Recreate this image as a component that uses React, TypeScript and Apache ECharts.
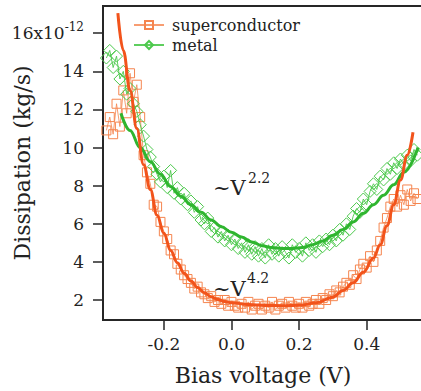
import React, { useEffect, useRef } from "react";
import * as echarts from "echarts";

const voltage = [
  -0.37, -0.36, -0.35, -0.34, -0.33, -0.32, -0.31, -0.30, -0.29, -0.28,
  -0.27, -0.26, -0.25, -0.24, -0.23, -0.22, -0.21, -0.20, -0.19, -0.18,
  -0.17, -0.16, -0.15, -0.14, -0.13, -0.12, -0.11, -0.10, -0.09, -0.08,
  -0.07, -0.06, -0.05, -0.04, -0.03, -0.02, -0.01, 0.0, 0.01, 0.02,
  0.03, 0.04, 0.05, 0.06, 0.07, 0.08, 0.09, 0.10, 0.11, 0.12,
  0.13, 0.14, 0.15, 0.16, 0.17, 0.18, 0.19, 0.20, 0.21, 0.22,
  0.23, 0.24, 0.25, 0.26, 0.27, 0.28, 0.29, 0.30, 0.31, 0.32,
  0.33, 0.34, 0.35, 0.36, 0.37, 0.38, 0.39, 0.40, 0.41, 0.42,
  0.43, 0.44, 0.45, 0.46, 0.47, 0.48, 0.49, 0.50, 0.51, 0.52,
  0.53, 0.54, 0.55,
];

const superconductor = [
  10.9, 11.6, 10.7, 12.3, 11.1, 13.0, 11.8, 13.9, 12.4, 13.3,
  11.6, 9.6, 8.7, 8.1, 7.0, 6.9, 6.1, 5.6, 5.2, 4.6,
  4.4, 3.9, 3.6, 3.3, 3.1, 2.9, 2.6, 2.7, 2.4, 2.3,
  2.1, 2.2, 1.9, 2.0, 1.8, 2.0, 1.7, 1.9, 1.7, 1.6,
  1.8, 1.6, 1.9, 1.5, 1.7, 1.8, 1.5, 1.7, 1.6, 1.9,
  1.5, 1.7, 1.8, 1.6, 1.9, 1.7, 1.6, 1.8, 1.6, 1.9,
  1.7, 1.8, 2.0, 1.8, 2.1, 2.0, 2.3, 2.2, 2.5, 2.4,
  2.7, 2.9, 2.8, 3.3, 3.1, 3.6, 3.9, 3.7, 4.3, 4.0,
  4.6, 5.1, 5.8, 6.3, 6.9, 7.3, 6.9, 7.5, 7.0, 7.8,
  7.2, 7.6, 7.3,
];

const metal = [
  14.7, 15.1, 14.2, 14.8, 13.6, 14.0, 12.8, 13.1, 12.3, 11.9,
  11.2, 10.6, 9.9, 9.5, 9.0, 8.6, 8.2, 8.5, 7.9, 8.8,
  7.6, 7.9, 7.3, 7.6, 7.0, 7.2, 6.6, 6.9, 6.2, 6.0,
  6.3, 5.6, 5.8, 5.3, 5.6, 5.1, 5.4, 4.9, 5.2, 4.7,
  5.0, 4.5, 4.9, 4.4, 4.8, 4.3, 4.7, 4.2, 4.9, 4.4,
  4.7, 4.3, 4.8, 4.5, 4.2, 4.9, 4.5, 4.7, 4.3, 5.0,
  4.6, 4.9, 4.5, 5.1, 4.8, 5.2, 4.9, 5.4, 5.1, 5.7,
  5.4, 6.0, 5.7, 6.4, 6.8, 6.6, 7.3, 7.0, 7.7, 8.1,
  7.8, 8.5, 8.3, 8.9, 8.6, 9.2, 8.9, 9.4, 9.1, 9.6,
  9.3, 9.9, 9.6,
];

const scFitV = [
  -0.336, -0.32, -0.30, -0.28, -0.26, -0.24, -0.22, -0.20, -0.18, -0.16,
  -0.14, -0.12, -0.10, -0.08, -0.06, -0.04, -0.02, 0.0, 0.05, 0.10,
  0.15, 0.20, 0.25, 0.30, 0.33, 0.36, 0.39, 0.42, 0.44, 0.46,
  0.48, 0.50, 0.52, 0.537,
];
const scFit = [
  17.05, 15.1, 13.0, 11.0, 9.1, 7.8, 6.45, 5.5, 4.6, 3.95,
  3.4, 3.0, 2.65, 2.38, 2.17, 2.02, 1.92, 1.86, 1.76, 1.71,
  1.7, 1.72, 1.85, 2.15, 2.5, 2.9, 3.45, 4.2, 4.9, 5.9,
  7.0, 8.3, 9.6, 10.8,
];

const metalFitV = [
  -0.327, -0.30, -0.27, -0.24, -0.21, -0.18, -0.15, -0.12, -0.09, -0.06,
  -0.03, 0.0, 0.03, 0.06, 0.09, 0.12, 0.15, 0.18, 0.21, 0.24,
  0.27, 0.30, 0.33, 0.36, 0.39, 0.42, 0.45, 0.48, 0.51, 0.552,
];
const metalFit = [
  11.8, 10.9, 10.0, 9.25, 8.6, 7.95, 7.45, 7.0, 6.6, 6.2,
  5.85, 5.55, 5.3, 5.05, 4.85, 4.75, 4.7, 4.7, 4.75, 4.9,
  5.1, 5.4, 5.7, 6.1, 6.55, 7.0, 7.5, 8.05, 8.7, 10.0,
];

const yTicks = [2, 4, 6, 8, 10, 12, 14, 16];
const xTicks = [-0.2, 0.0, 0.2, 0.4];

const FONT = "DejaVu Serif";
const ORANGE = "#f5854f";
const ORANGE_FIT = "#f2531b";
const GREEN = "#4cc94c";
const GREEN_FIT = "#2fb52f";
const AXIS = "#262626";

export default function App() {
  const ref = useRef<HTMLDivElement>(null);
  useEffect(() => {
    if (!ref.current) return;
    const chart = echarts.init(ref.current, null, { renderer: "svg" });
    const pairs = (xs: number[], ys: number[]) => xs.map((x, i) => [x, ys[i]]);
    chart.setOption({
      animation: false,
      backgroundColor: "#ffffff",
      textStyle: { fontFamily: FONT },
      grid: {
        left: 103, right: -2, top: 6, bottom: 71,
        outerBoundsMode: "none", containLabel: false,
        show: true, borderColor: AXIS, borderWidth: 2,
      },
      legend: {
        data: ["superconductor", "metal"],
        orient: "vertical",
        left: 128,
        top: 12,
        itemWidth: 30,
        itemHeight: 10,
        itemGap: 4,
        textStyle: { fontFamily: FONT, fontSize: 16, color: "#222", padding: [0, 0, 0, 3] },
      },
      xAxis: {
        type: "value",
        min: -0.38,
        max: 0.5666,
        name: "Bias voltage (V)",
        nameLocation: "middle",
        nameGap: 44,
        nameMoveOverlap: false,
        nameTextStyle: { fontFamily: FONT, fontSize: 22, color: "#222" },
        axisLine: { show: true, onZero: false, lineStyle: { color: AXIS, width: 2 } },
        axisTick: { show: true, inside: false, length: 10, customValues: xTicks, lineStyle: { color: AXIS, width: 1.5 } },
        axisLabel: {
          customValues: xTicks,
          margin: 15,
          fontFamily: FONT,
          fontSize: 17,
          color: "#222",
          formatter: (v: number) => v.toFixed(1),
        },
        splitLine: { show: false },
      },
      yAxis: {
        type: "value",
        min: 0.95,
        max: 17.43,
        name: "Dissipation (kg/s)",
        nameLocation: "middle",
        nameGap: 70,
        nameMoveOverlap: false,
        nameTextStyle: { fontFamily: FONT, fontSize: 22, color: "#222" },
        axisLine: { show: true, onZero: false, lineStyle: { color: AXIS, width: 2 } },
        axisTick: { show: true, inside: false, length: 10, customValues: yTicks, lineStyle: { color: AXIS, width: 1.5 } },
        axisLabel: {
          customValues: yTicks,
          margin: 19,
          fontFamily: FONT,
          fontSize: 17,
          color: "#222",
          formatter: (v: number) => (v === 16 ? "{n|16x10}{s|-12}" : String(v)),
          rich: {
            n: { fontFamily: FONT, fontSize: 17, color: "#222" },
            s: { fontFamily: FONT, fontSize: 12, color: "#222", padding: [0, 0, 12, 0] },
          },
        },
        splitLine: { show: false },
      },
      series: [
        {
          name: "superconductor",
          type: "line",
          data: pairs(voltage, superconductor),
          symbol: "rect",
          symbolSize: 9,
          itemStyle: { color: "rgba(255,255,255,0)", borderColor: ORANGE, borderWidth: 1 },
          lineStyle: { color: ORANGE, width: 1, opacity: 0.8 },
          emphasis: { disabled: true },
          z: 2,
        },
        {
          name: "metal",
          type: "line",
          data: pairs(voltage, metal),
          symbol: "diamond",
          symbolSize: 12,
          itemStyle: { color: "rgba(255,255,255,0)", borderColor: GREEN, borderWidth: 1 },
          lineStyle: { color: GREEN, width: 1, opacity: 0.9 },
          emphasis: { disabled: true },
          z: 3,
        },
        {
          name: "metal fit",
          type: "line",
          data: pairs(metalFitV, metalFit),
          symbol: "none",
          smooth: 0.4,
          smoothMonotone: "x",
          lineStyle: { color: GREEN_FIT, width: 3 },
          emphasis: { disabled: true },
          z: 4,
        },
        {
          name: "superconductor fit",
          type: "line",
          data: pairs(scFitV, scFit),
          symbol: "none",
          smooth: 0.4,
          smoothMonotone: "x",
          lineStyle: { color: ORANGE_FIT, width: 3 },
          emphasis: { disabled: true },
          z: 5,
        },
      ],
      graphic: [
        { type: "text", left: 213, top: 177, z: 10, style: { text: "~V", font: `21px '${FONT}'`, fill: "#222" } },
        { type: "text", left: 248, top: 171, z: 10, style: { text: "2.2", font: `14px '${FONT}'`, fill: "#222" } },
        { type: "text", left: 213, top: 278, z: 10, style: { text: "~V", font: `21px '${FONT}'`, fill: "#222" } },
        { type: "text", left: 247, top: 271, z: 10, style: { text: "4.2", font: `14px '${FONT}'`, fill: "#222" } },
      ],
    });
    return () => chart.dispose();
  }, []);
  return (
    <div
      ref={ref}
      style={{ position: "fixed", left: 0, top: 0, width: 421, height: 391, background: "#fff" }}
    />
  );
}
